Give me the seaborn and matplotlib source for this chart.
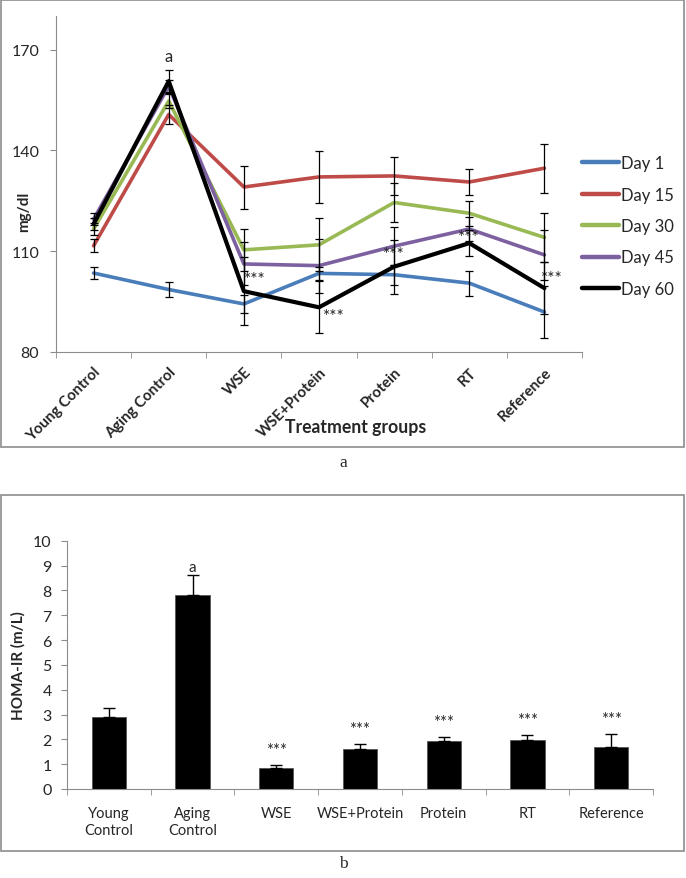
import matplotlib
matplotlib.use("Agg")
import matplotlib.pyplot as plt
import seaborn as sns
import pandas as pd
from matplotlib.patches import Rectangle

groups = ["Young Control", "Aging Control", "WSE", "WSE+Protein", "Protein", "RT", "Reference"]
days = ["Day 1", "Day 15", "Day 30", "Day 45", "Day 60"]

day1 = [103.5, 98.6, 94.3, 103.4, 103.0, 100.5, 91.9]
day15 = [111.6, 150.7, 129.1, 132.1, 132.4, 130.6, 134.7]
day30 = [116.6, 154.7, 110.4, 111.9, 124.5, 121.3, 114.1]
day45 = [119.5, 159.1, 106.2, 105.7, 111.5, 116.6, 108.9]
day60 = [118.1, 160.6, 98.1, 93.3, 105.4, 112.4, 99.0]

err1 = [1.8, 2.2, 2.8, 2.0, 3.0, 3.7, 7.6]
err15 = [1.9, 2.7, 6.4, 7.8, 5.7, 3.8, 7.3]
err30 = [1.8, 2.0, 6.2, 7.9, 5.7, 3.7, 7.4]
err45 = [1.8, 2.0, 6.4, 8.0, 5.7, 3.5, 7.4]
err60 = [1.8, 3.2, 10.2, 7.7, 8.0, 3.8, 7.7]

homa = [2.9, 7.8, 0.85, 1.62, 1.94, 1.99, 1.7]
homa_err = [0.35, 0.8, 0.13, 0.18, 0.17, 0.2, 0.5]
homa_marks = ["", "a", "***", "***", "***", "***", "***"]

colors = ["#4A7EBB", "#BE4B48", "#98B954", "#7D60A0", "#000000"]

series = [day1, day15, day30, day45, day60]
errors = [err1, err15, err30, err45, err60]

rows = []
for d, vals in zip(days, series):
    for g, v in zip(groups, vals):
        rows.append({"group": g, "day": d, "value": v})
df = pd.DataFrame(rows)

sns.set_style("white")
plt.rcParams["font.family"] = ["Lato", "DejaVu Sans"]

fig = plt.figure(figsize=(6.86, 8.79), dpi=100)

# panel frames
fig.patches.append(Rectangle((1 / 686, 1 - 448 / 879), 683 / 686, 447 / 879,
                             transform=fig.transFigure, fill=False, edgecolor="#8c8c8c", lw=1.2))
fig.patches.append(Rectangle((1 / 686, 1 - 852 / 879), 683 / 686, 356 / 879,
                             transform=fig.transFigure, fill=False, edgecolor="#8c8c8c", lw=1.2))

# ---- panel a ----
ax = fig.add_axes([56 / 686, 1 - 353 / 879, 526 / 686, 336 / 879])
sns.lineplot(data=df, x="group", y="value", hue="day", palette=colors, sort=False,
             errorbar=None, linewidth=2.6, ax=ax)
for line, c in zip(ax.get_lines(), colors):
    if c == "#000000":
        line.set_linewidth(3.0)
for vals, errs in zip(series, errors):
    ax.errorbar(range(len(groups)), vals, yerr=errs, fmt="none", ecolor="black",
                elinewidth=0.9, capsize=3, capthick=0.9, zorder=5)

ax.set_xlim(-0.5, 6.5)
ax.set_ylim(80, 180)
ax.set_yticks([80, 110, 140, 170])
ax.set_xticks(range(len(groups)))
ax.set_xticklabels(groups, rotation=45, ha="right", rotation_mode="anchor",
                   fontsize=10.8, fontweight="bold")
ax.set_xticks([i - 0.5 for i in range(len(groups) + 1)], minor=True)
ax.tick_params(axis="x", which="major", length=0, pad=9)
ax.tick_params(axis="x", which="minor", length=4, direction="out", color="#8c8c8c", bottom=True)
ax.tick_params(axis="y", length=4, direction="out", color="#8c8c8c", left=True,
               labelsize=11.5, pad=8)
for s in ["top", "right"]:
    ax.spines[s].set_visible(False)
for s in ["left", "bottom"]:
    ax.spines[s].set_color("#8c8c8c")
ax.set_xlabel("Treatment groups", fontsize=12.7, fontweight="bold")
ax.xaxis.set_label_coords((356 - 56) / 526, -(427 - 353) / 336)
ax.xaxis.label.set_va("center")
ax.set_ylabel("mg/dl", fontsize=11, fontweight="bold")
ax.yaxis.set_label_coords((31 - 56) / 526, (353 - 212) / 336)

ax.text(1, 168.0, "a", ha="center", va="center", fontsize=12)
ax.text(2.0, 101.6, "***", ha="left", va="center", fontsize=12.5)
ax.text(3.05, 90.8, "***", ha="left", va="center", fontsize=12.5)
ax.text(4, 109.3, "***", ha="center", va="center", fontsize=12.5)
ax.text(5, 114.3, "***", ha="center", va="center", fontsize=12.5)
ax.text(5.95, 102.0, "***", ha="left", va="center", fontsize=12.5)

leg = ax.legend(loc="upper left", bbox_to_anchor=(582 / 686, 1 - 156 / 879),
                bbox_transform=fig.transFigure,
                frameon=False, fontsize=12, handlelength=2.2, handletextpad=0.15,
                labelspacing=0.93, borderaxespad=0, borderpad=0)
for h in leg.get_lines():
    h.set_linewidth(3.2)

fig.text(343 / 686, 1 - 463 / 879, "a", ha="center", va="center", fontsize=12.5,
         family="Liberation Serif")

# ---- panel b ----
bx = fig.add_axes([67 / 686, 1 - 790 / 879, 586 / 686, 248.3 / 879])
sns.barplot(x=groups, y=homa, color="black", width=0.41, ax=bx, saturation=1,
            edgecolor="#555555", linewidth=0.6)
bx.errorbar(range(len(groups)), homa, yerr=[[0] * len(homa), homa_err], fmt="none",
            ecolor="black", elinewidth=1.0, capsize=4, capthick=1.0)
for i, m in enumerate(homa_marks):
    if m:
        y = homa[i] + homa_err[i] + (0.35 if m == "a" else 0.6)
        bx.text(i, y, m, ha="center", va="center", fontsize=11 if m == "a" else 12)

bx.set_xlim(-0.5, 6.5)
bx.set_ylim(0, 10)
bx.set_yticks(range(0, 11))
bx.set_xticks(range(len(groups)))
bx.set_xticklabels(["Young\nControl", "Aging\nControl", "WSE", "WSE+Protein",
                    "Protein", "RT", "Reference"], fontsize=10.5, va="top", linespacing=1.3)
bx.set_xticks([i - 0.5 for i in range(len(groups) + 1)], minor=True)
bx.tick_params(axis="x", which="major", length=0, pad=12)
bx.tick_params(axis="x", which="minor", length=4, direction="out", color="#8c8c8c", bottom=True)
bx.tick_params(axis="y", length=4, direction="out", color="#8c8c8c", left=True,
               labelsize=11.5, pad=7)
for s in ["top", "right"]:
    bx.spines[s].set_visible(False)
for s in ["left", "bottom"]:
    bx.spines[s].set_color("#8c8c8c")
bx.set_ylabel("HOMA-IR (m/L)", fontsize=11, fontweight="bold")
bx.yaxis.set_label_coords((26 - 67) / 586, 0.5)
bx.set_xlabel("")

fig.text(343 / 686, 1 - 864 / 879, "b", ha="center", va="center", fontsize=12.5,
         family="Liberation Serif")

fig.savefig("out.png", dpi=100)
